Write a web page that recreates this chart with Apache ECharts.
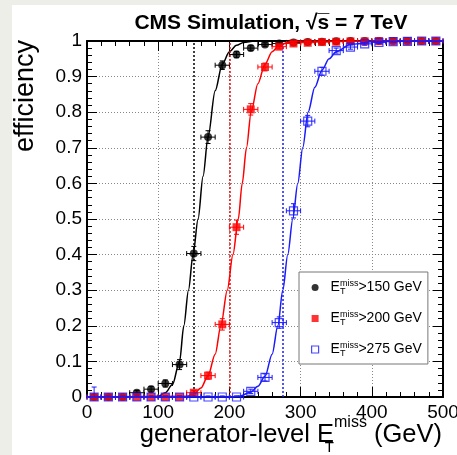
<!DOCTYPE html>
<html>
<head>
<meta charset="utf-8">
<script src="https://cdn.jsdelivr.net/npm/echarts@6/dist/echarts.min.js"></script>
<style>
html, body { margin: 0; padding: 0; background: #eeeee8; }
#paper { position: absolute; left: 12px; top: 5px; width: 445px; height: 450px; background: #fff; }
#main { position: absolute; left: 0; top: 0; width: 457px; height: 455px; }
</style>
</head>
<body>
<div id="paper"></div>
<div id="main"></div>
<script>
var FONT = '"Liberation Sans", Arial, Helvetica, sans-serif';

// bin centres (GeV), bins are 20 GeV wide
var binCenters = [10, 30, 50, 70, 90, 110, 130, 150, 170, 190, 210, 230, 250, 270, 290, 310, 330, 350, 370, 390, 410, 430, 450, 470, 490];
var binHalf = 10;

// efficiency points
var effBlack = [0, 0, 0, 0.012, 0.022, 0.038, 0.091, 0.403, 0.730, 0.932, 0.962, 0.980, 0.990, 0.993, 0.996, 0.997, 0.998, 0.999, 1, 1, 1, 1, 1, 1, 1];
var errBlack = [0.003, 0.003, 0.003, 0.006, 0.008, 0.01, 0.014, 0.02, 0.018, 0.012, 0.009, 0.007, 0.005, 0.004, 0.003, 0.003, 0.002, 0.002, 0.002, 0.002, 0.002, 0.002, 0.002, 0.002, 0.002];
var effRed = [0, 0, 0, 0, 0, 0, 0, 0.012, 0.060, 0.204, 0.477, 0.808, 0.927, 0.984, 0.993, 0.995, 0.997, 0.998, 0.999, 0.999, 1, 1, 1, 1, 1];
var errRed = [0.003, 0.003, 0.003, 0.003, 0.003, 0.003, 0.003, 0.006, 0.01, 0.016, 0.02, 0.016, 0.011, 0.006, 0.004, 0.003, 0.003, 0.002, 0.002, 0.002, 0.002, 0.002, 0.002, 0.002, 0.002];
var effBlue = [0, 0, 0, 0, 0, 0, 0, 0, 0, 0, 0, 0.016, 0.055, 0.209, 0.523, 0.775, 0.915, 0.973, 0.983, 0.992, 0.996, 0.998, 0.999, 1, 1];
var errBlue = [0.028, 0.003, 0.003, 0.003, 0.003, 0.003, 0.003, 0.003, 0.003, 0.003, 0.003, 0.006, 0.01, 0.016, 0.02, 0.016, 0.011, 0.007, 0.006, 0.004, 0.003, 0.002, 0.002, 0.002, 0.002];

// fitted turn-on curves, sampled from the plot
var fitBlackX = [0, 90, 100, 110, 120, 130, 136, 142.5, 149, 156, 163, 170, 180, 190, 200, 210, 220, 235, 500];
var fitBlackY = [0, 0, 0.002, 0.012, 0.035, 0.1, 0.2, 0.3, 0.4, 0.5, 0.62, 0.73, 0.86, 0.935, 0.97, 0.988, 0.996, 1, 1];
var fitRedX = [0, 140, 150, 160, 170, 180, 188, 197, 205, 212.5, 218, 224, 230.5, 240, 250, 260, 270, 285, 300, 500];
var fitRedY = [0, 0.002, 0.008, 0.025, 0.06, 0.12, 0.2, 0.3, 0.4, 0.5, 0.6, 0.7, 0.8, 0.88, 0.935, 0.97, 0.988, 0.998, 1, 1];
var fitBlueX = [0, 200, 215, 230, 240, 250, 260, 268, 275, 282, 289, 296, 303, 310.5, 320, 330, 340, 350, 370, 400, 430, 500];
var fitBlueY = [0, 0, 0.003, 0.014, 0.03, 0.058, 0.12, 0.2, 0.3, 0.4, 0.5, 0.6, 0.7, 0.8, 0.87, 0.918, 0.95, 0.97, 0.99, 0.998, 1, 1];

var thresholds = [150, 200, 275];
var legendNames = ['>150 GeV', '>200 GeV', '>275 GeV'];

function pairs(xs, ys) {
	return xs.map(function(x, i) { return [x, ys[i]]; });
}
function triples(xs, ys, es) {
	return xs.map(function(x, i) { return [x, ys[i], es[i]]; });
}

function errorBars(color) {
	return function(params, api) {
		var x = api.value(0), y = api.value(1), e = api.value(2);
		var p = api.coord([x, y]);
		var l = api.coord([x - binHalf, y]);
		var r = api.coord([x + binHalf, y]);
		var hi = api.coord([x, Math.min(1, y + e)]);
		var lo = api.coord([x, Math.max(0, y - e)]);
		var c = 2.5;
		var st = { stroke: color, lineWidth: 1 };
		var kids = [
			{ type: 'line', shape: { x1: l[0], y1: p[1], x2: r[0], y2: p[1] }, style: st },
			{ type: 'line', shape: { x1: l[0], y1: p[1] - c, x2: l[0], y2: p[1] + c }, style: st },
			{ type: 'line', shape: { x1: r[0], y1: p[1] - c, x2: r[0], y2: p[1] + c }, style: st },
			{ type: 'line', shape: { x1: p[0], y1: hi[1], x2: p[0], y2: lo[1] }, style: st }
		];
		if (y + e < 1) kids.push({ type: 'line', shape: { x1: p[0] - c, y1: hi[1], x2: p[0] + c, y2: hi[1] }, style: st });
		if (y - e > 0) kids.push({ type: 'line', shape: { x1: p[0] - c, y1: lo[1], x2: p[0] + c, y2: lo[1] }, style: st });
		return { type: 'group', children: kids };
	};
}

var groups = [
	{ name: legendNames[0], eff: effBlack, err: errBlack, fx: fitBlackX, fy: fitBlackY, thr: thresholds[0], color: '#000000',
		symbol: 'circle', item: { color: '#000000' } },
	{ name: legendNames[1], eff: effRed, err: errRed, fx: fitRedX, fy: fitRedY, thr: thresholds[1], color: '#ff0000',
		symbol: 'rect', item: { color: '#ff0000' } },
	{ name: legendNames[2], eff: effBlue, err: errBlue, fx: fitBlueX, fy: fitBlueY, thr: thresholds[2], color: '#1a1aff',
		symbol: 'rect', item: { color: 'rgba(255,255,255,0)', borderColor: '#1a1aff', borderWidth: 1.2 } }
];

var series = [];
groups.forEach(function(g, k) {
	var z0 = 2 + k * 3;
	series.push({
		type: 'line',
		data: pairs(g.fx, g.fy),
		showSymbol: false,
		smooth: 0.3,
		smoothMonotone: 'x',
		silent: true,
		z: z0,
		lineStyle: { color: g.color, width: 1.5 },
		markLine: {
			silent: true,
			symbol: 'none',
			label: { show: false },
			lineStyle: { color: g.color, type: [2, 2], width: 1.5 },
			data: [{ xAxis: g.thr }]
		}
	});
	series.push({
		type: 'custom',
		data: triples(binCenters, g.eff, g.err),
		renderItem: errorBars(g.color),
		encode: { x: 0, y: 1 },
		silent: true,
		z: z0 + 1
	});
	series.push({
		name: g.name,
		type: 'scatter',
		data: pairs(binCenters, g.eff),
		symbol: g.symbol,
		symbolSize: 8,
		itemStyle: g.item,
		silent: true,
		z: z0 + 2
	});
});

var axisCommon = {
	axisLine: { show: true, onZero: false, lineStyle: { color: '#000', width: 2 } },
	axisTick: { show: true, inside: true, length: 10, lineStyle: { color: '#000', width: 1 } },
	minorTick: { show: true, splitNumber: 5, length: 5, lineStyle: { color: '#000', width: 1 } }
};

var chart = echarts.init(document.getElementById('main'));
var option = {
	animation: false,
	backgroundColor: 'transparent',
	title: {
		text: 'CMS Simulation, \u221As\u0305 = 7 TeV',
		left: 271,
		top: 13,
		padding: 0,
		textAlign: 'center',
		textStyle: { fontFamily: FONT, fontSize: 21, fontWeight: 'bold', color: '#000' }
	},
	grid: { left: 87, right: 14, top: 41, bottom: 58, containLabel: false, outerBoundsMode: 'none' },
	xAxis: [
		Object.assign({
			type: 'value', min: 0, max: 500, interval: 100, position: 'bottom',
			axisLabel: { fontFamily: FONT, fontSize: 19, color: '#000', margin: 6 },
			splitLine: { show: true, lineStyle: { color: '#888', type: [1, 2], width: 1 } },
			name: '{a|generator-level E}{t|T}{m|miss}{a| (GeV)}',
			nameLocation: 'end',
			nameGap: -1,
			nameMoveOverlap: false,
			nameTextStyle: {
				align: 'right', verticalAlign: 'top', padding: [18, 0, 0, 0],
				fontFamily: FONT, color: '#000',
				rich: {
					a: { fontFamily: FONT, fontSize: 25.5, lineHeight: 40, verticalAlign: 'middle', color: '#000' },
					t: { fontFamily: FONT, fontSize: 15, lineHeight: 15, verticalAlign: 'bottom', width: 0.01, color: '#000' },
					m: { fontFamily: FONT, fontSize: 16, lineHeight: 16, verticalAlign: 'top', color: '#000' }
				}
			}
		}, axisCommon),
		Object.assign({
			type: 'value', min: 0, max: 500, interval: 100, position: 'top',
			axisLabel: { show: false }, splitLine: { show: false }
		}, axisCommon)
	],
	yAxis: [
		Object.assign({
			type: 'value', min: 0, max: 1, interval: 0.1, position: 'left',
			axisLabel: { fontFamily: FONT, fontSize: 19, color: '#000', margin: 5 },
			splitLine: { show: true, lineStyle: { color: '#888', type: [1, 2], width: 1 } }
		}, axisCommon),
		Object.assign({
			type: 'value', min: 0, max: 1, interval: 0.1, position: 'right',
			axisLabel: { show: false }, splitLine: { show: false }
		}, axisCommon)
	],
	legend: {
		data: groups.map(function(g) {
			return { name: g.name, icon: g.symbol, itemStyle: g.item };
		}),
		orient: 'vertical',
		left: 299,
		top: 272,
		padding: [7, 6, 6, 12],
		itemGap: 14,
		itemWidth: 7,
		itemHeight: 7,
		selectedMode: false,
		backgroundColor: '#fff',
		borderColor: '#777',
		borderWidth: 1,
		formatter: function(name) {
			return '{e|E}{t|T}{m|miss}{v|' + name + '}';
		},
		textStyle: {
			fontFamily: FONT, color: '#000',
			rich: {
				e: { fontFamily: FONT, fontSize: 14, lineHeight: 17, verticalAlign: 'middle', padding: [0, 0, 0, 7], color: '#000' },
				t: { fontFamily: FONT, fontSize: 9, lineHeight: 9, verticalAlign: 'bottom', width: 0.01, color: '#000' },
				m: { fontFamily: FONT, fontSize: 9, lineHeight: 9, verticalAlign: 'top', color: '#000' },
				v: { fontFamily: FONT, fontSize: 14, lineHeight: 17, verticalAlign: 'middle', color: '#000' }
			}
		}
	},
	graphic: [{
		type: 'text',
		x: 26,
		y: 40,
		rotation: Math.PI / 2,
		style: { text: 'efficiency', fontFamily: FONT, fontSize: 27, fill: '#000', align: 'right', verticalAlign: 'middle' }
	}],
	series: series
};
chart.setOption(option);
</script>
</body>
</html>
